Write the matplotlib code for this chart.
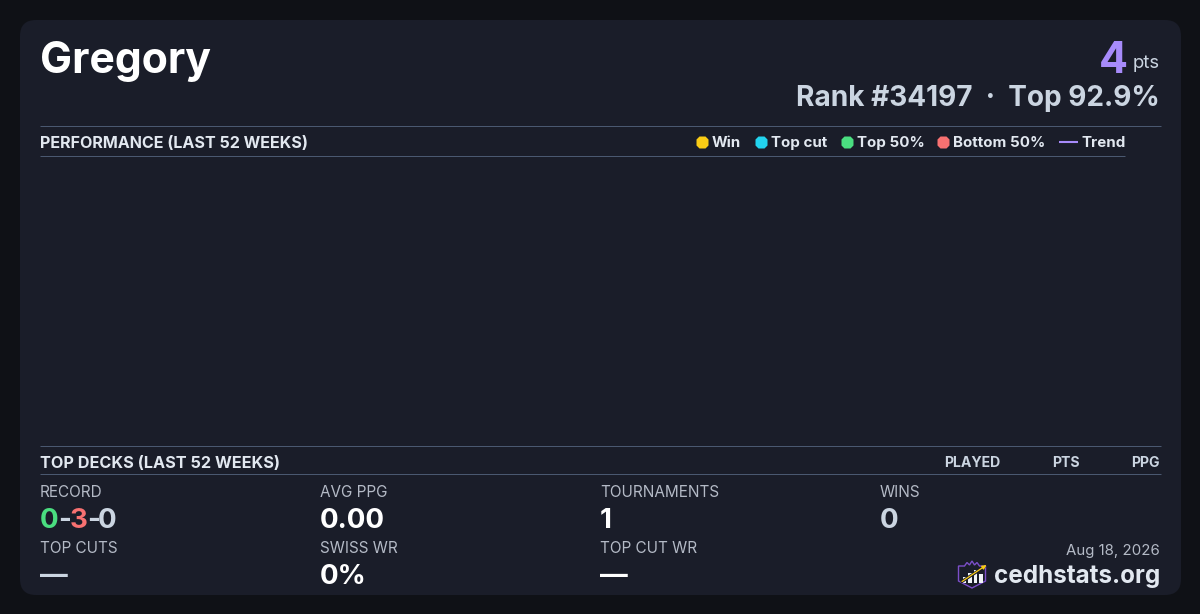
import matplotlib
matplotlib.use("Agg")
import matplotlib.pyplot as plt
from matplotlib.patches import FancyBboxPatch, Polygon, Rectangle
from matplotlib.lines import Line2D

# ---- content ----
player_name = "Gregory"
points_value = "4"
points_unit = "pts"
rank_line = "Rank #34197  ·  Top 92.9%"
perf_title = "PERFORMANCE (LAST 52 WEEKS)"
decks_title = "TOP DECKS (LAST 52 WEEKS)"
deck_columns = ["PLAYED", "PTS", "PPG"]
legend_labels = ["Win", "Top cut", "Top 50%", "Bottom 50%"]
legend_colors = ["#facc15", "#22d3ee", "#4ade80", "#f87171"]
trend_label = "Trend"
trend_color = "#a78bfa"
record_parts = ["0", "-", "3", "-", "0"]
record_colors = ["#4ade80", "#cbd5e1", "#f87171", "#cbd5e1", "#cbd5e1"]
stat_labels_top = ["RECORD", "AVG PPG", "TOURNAMENTS", "WINS"]
stat_values_top = [None, "0.00", "1", "0"]
stat_colors_top = [None, "#ffffff", "#ffffff", "#cbd5e1"]
stat_labels_bottom = ["TOP CUTS", "SWISS WR", "TOP CUT WR"]
stat_values_bottom = ["—", "0%", "—"]
stat_colors_bottom = ["#cbd5e1", "#ffffff", "#ffffff"]
date_text = "Aug 18, 2026"
brand_text = "cedhstats.org"

BG = "#0f1116"
CARD = "#1a1d29"
RULE = "#4a5870"
LIGHT = "#e2e8f0"
MUTED = "#cbd5e1"
LABEL = "#b4bac6"

plt.rcParams["font.family"] = ["Inter", "DejaVu Sans"]
fig = plt.figure(figsize=(12, 6.14), dpi=100, facecolor=BG)
ax = fig.add_axes([0, 0, 1, 1])
ax.set_xlim(0, 1200)
ax.set_ylim(614, 0)
ax.axis("off")


def T(x, y, s, px, color, weight="normal", ha="left", va="baseline"):
    return ax.text(x, y, s, fontsize=px * 0.72, color=color, fontweight=weight, ha=ha, va=va)


def rule(x0, x1, y):
    ax.add_line(Line2D([x0, x1], [y, y], color=RULE, lw=0.72, solid_capstyle="butt"))


ax.add_patch(FancyBboxPatch((20, 20), 1161, 575, boxstyle="round,pad=0,rounding_size=16",
                            fc=CARD, ec="none"))

# header
T(39.5, 73, player_name, 42.7, "#ffffff", "bold")
T(1160, 68, points_unit, 18.5, MUTED, ha="right")
T(1127.5, 73, points_value, 43, trend_color, "bold", ha="right")
T(1160, 106, rank_line, 28, MUTED, "bold", ha="right")

# performance header
rule(40, 1161, 126)
rule(40, 1125, 156)
T(40, 148, perf_title, 16.1, LIGHT, "bold")

legend_dot_x = [702, 761, 847, 943]
legend_text_x = [712, 771, 857, 953]
for dx, tx, lab, col in zip(legend_dot_x, legend_text_x, legend_labels, legend_colors):
    ax.plot([dx], [141.7], "8", ms=10, mfc=col, mec="none")
    T(tx, 147, lab, 15.1, LIGHT, "bold")
ax.add_line(Line2D([1059, 1078], [142, 142], color=trend_color, lw=1.5, solid_capstyle="butt"))
T(1081, 147, trend_label, 15.1, LIGHT, "bold")

# decks header
rule(40, 1161, 446)
rule(40, 1161, 474)
T(40, 468, decks_title, 16.2, LIGHT, "bold")
for x, lab in zip([1000, 1080, 1160], deck_columns):
    T(x, 467, lab, 14.1, "#cbd5e1", "bold", ha="right")

# stats
cols = [40, 320, 600, 880]
for x, lab in zip(cols, stat_labels_top):
    T(x, 497, lab, 15.3, LABEL)
for x, val, col in zip(cols, stat_values_top, stat_colors_top):
    if val is not None:
        T(x, 528, val, 27.7, col, "bold")
for x, lab in zip(cols, stat_labels_bottom):
    T(x, 553, lab, 15.3, LABEL)
for x, val, col in zip(cols, stat_values_bottom, stat_colors_bottom):
    T(x, 584, val, 27.7, col, "bold")

# record, one coloured run per part
for x, part, col in zip([40, 58, 70, 87, 98], record_parts, record_colors):
    T(x, 528, part, 27.7, col, "bold")

# footer
T(1160, 555, date_text, 15, "#b4bac6", ha="right")
T(1160, 583, brand_text, 24.2, LIGHT, "bold", ha="right")

# logo
shield = [(958.5, 566), (964.5, 566), (967, 562.5), (969.5, 565), (972, 561), (974.5, 565), (977, 562.5),
          (979.5, 566), (985.5, 566), (985.5, 581), (972, 588), (958.5, 581)]
ax.add_patch(Polygon(shield, closed=True, fc="none", ec="#7c4fc9", lw=1.0))
for x, top in zip([962.5, 968, 973.5, 979], [577, 573, 570, 574]):
    ax.add_patch(Rectangle((x, top), 3.5, 583 - top, fc="#f1f5f9", ec="none"))
ax.add_line(Line2D([962, 984], [581.5, 567], color="#1a1d29", lw=2.2, solid_capstyle="round"))
ax.annotate("", xy=(986.5, 565), xytext=(962, 581.5),
            arrowprops=dict(arrowstyle="-|>", color="#facc15", lw=0.9, mutation_scale=6, shrinkA=0, shrinkB=0))

fig.savefig("out.png", dpi=100, facecolor=BG)
